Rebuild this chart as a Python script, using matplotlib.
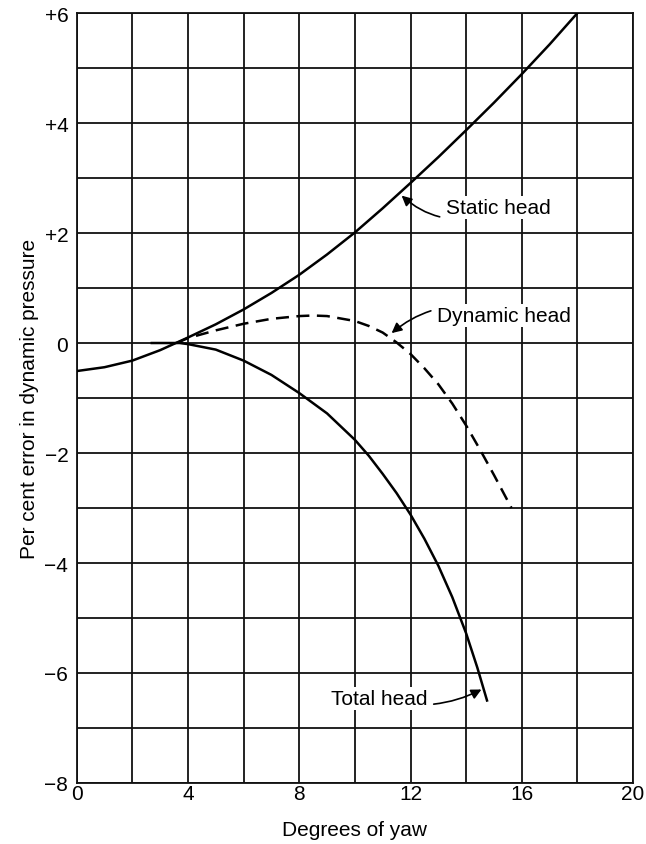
import matplotlib.pyplot as plt
import numpy as np

plt.rcParams["font.family"] = ["Liberation Sans", "DejaVu Sans"]

# curves read as (yaw in degrees, per cent error)
static_yaw = [0, 1, 2, 3, 4, 5, 6, 7, 8, 9, 10, 11, 12, 13, 14, 15, 16, 17, 18]
static_err = [-0.51, -0.44, -0.32, -0.13, 0.10, 0.34, 0.61, 0.91, 1.24, 1.61,
              2.01, 2.45, 2.91, 3.38, 3.87, 4.37, 4.89, 5.43, 6.0]

dynamic_yaw = [3.6, 4, 5, 6, 7, 8, 8.5, 9, 10, 10.5, 11, 11.5, 12, 12.5, 13,
               13.5, 14, 14.5, 15, 15.63]
dynamic_err = [0.0, 0.09, 0.23, 0.35, 0.44, 0.49, 0.50, 0.49, 0.40, 0.31,
               0.19, 0.01, -0.20, -0.46, -0.75, -1.10, -1.50, -1.94, -2.40, -3.0]

total_yaw = [2.7, 3.7, 4, 5, 6, 7, 8, 9, 10, 10.5, 11, 11.5, 12, 12.5, 13,
             13.5, 14, 14.4, 14.75]
total_err = [0.0, 0.0, -0.02, -0.12, -0.32, -0.58, -0.91, -1.28, -1.76, -2.05,
             -2.38, -2.73, -3.12, -3.56, -4.05, -4.62, -5.28, -5.90, -6.50]

x_ticks = [0, 4, 8, 12, 16, 20]
y_ticks = [-8, -6, -4, -2, 0, 2, 4, 6]
y_labels = ["\u22128", "\u22126", "\u22124", "\u22122", "0", "+2", "+4", "+6"]

fig = plt.figure(figsize=(6.46, 8.45), dpi=100)
ax = fig.add_axes([0.1187, 0.0722, 0.8613, 0.9112])

ax.plot(static_yaw, static_err, color="black", lw=1.8, zorder=3)
ax.plot(dynamic_yaw, dynamic_err, color="black", lw=1.8, ls=(0, (5.2, 3)), zorder=3)
ax.plot(total_yaw, total_err, color="black", lw=1.8, zorder=3)

ax.set_xlim(0, 20)
ax.set_ylim(-8, 6)
ax.set_xticks(x_ticks)
ax.set_xticks(np.arange(0, 21, 2), minor=True)
ax.set_yticks(y_ticks)
ax.set_yticklabels(y_labels)
ax.set_yticks(np.arange(-8, 7, 1), minor=True)
ax.grid(which="both", color="#111111", lw=1.3, zorder=1)
ax.set_axisbelow(True)
ax.tick_params(which="both", length=0, labelsize=15)
ax.tick_params(axis="x", pad=1)
ax.tick_params(axis="y", pad=6)
for s in ax.spines.values():
    s.set_linewidth(1.3)
    s.set_color("#111111")

ax.set_xlabel("Degrees of yaw", fontsize=15, labelpad=12)
ax.set_ylabel("Per cent error in dynamic pressure", fontsize=15, labelpad=4)

box = dict(fc="white", ec="none", pad=1.5)
arrow = dict(arrowstyle="-|>", color="black", lw=1.2, mutation_scale=15,
             shrinkA=3, shrinkB=0)
ax.annotate("Static head", xy=(11.68, 2.68), xytext=(13.27, 2.47),
            ha="left", va="center", fontsize=15, bbox=box, zorder=4,
            arrowprops=dict(arrow, connectionstyle="arc3,rad=-0.35"))
ax.annotate("Dynamic head", xy=(11.32, 0.18), xytext=(12.95, 0.5),
            ha="left", va="center", fontsize=15, bbox=box, zorder=4,
            arrowprops=dict(arrow, connectionstyle="arc3,rad=0.3"))
ax.annotate("Total head", xy=(14.55, -6.30), xytext=(12.61, -6.47),
            ha="right", va="center", fontsize=15, bbox=box, zorder=4,
            arrowprops=dict(arrow, connectionstyle="arc3,rad=0.2"))

fig.savefig("out.png", dpi=100)
